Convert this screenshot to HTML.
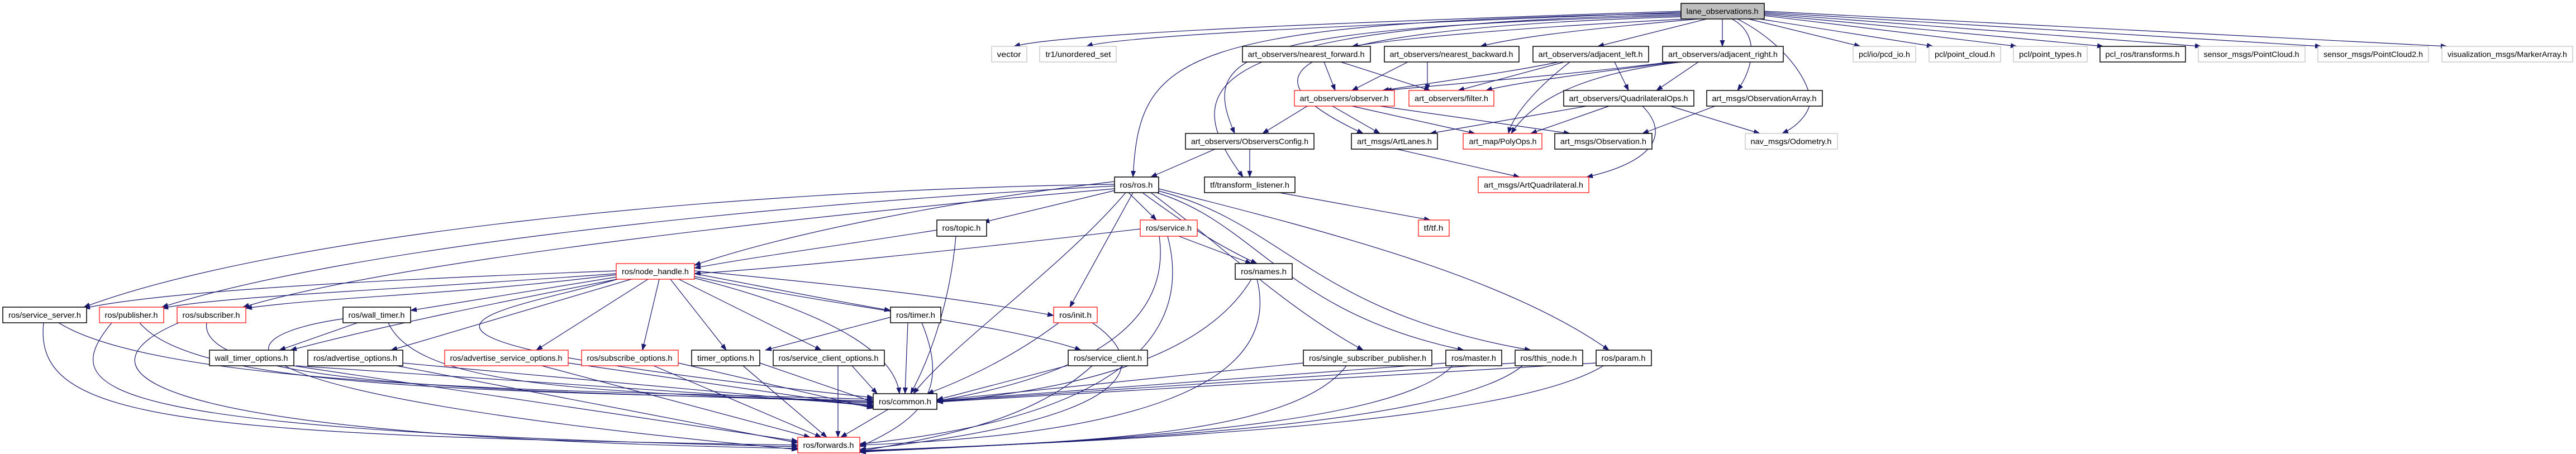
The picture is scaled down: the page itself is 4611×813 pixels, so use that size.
<!DOCTYPE html>
<html><head><meta charset="utf-8"><style>
html,body{margin:0;padding:0;background:#fff;}
svg{display:block}
text{font-family:"Liberation Sans",sans-serif;font-size:14px;fill:#000}
.e{fill:none;stroke:#191970;stroke-width:1.2}
.b{fill:#fff;stroke:#000;stroke-width:1.5}
.r{fill:#fff;stroke:#f00;stroke-width:1.2}
.g{fill:#fff;stroke:#bfbfbf;stroke-width:1.2}
</style></head><body>
<svg width="4611" height="813" viewBox="0 0 4611 813" xmlns="http://www.w3.org/2000/svg">
<defs><marker id="a" markerUnits="userSpaceOnUse" markerWidth="12" markerHeight="9" refX="11" refY="4.5" orient="auto"><path d="M0,0 L12,4.5 L0,9 z" fill="#191970"/></marker></defs>
<g class="e" marker-end="url(#a)">
<path d="M3009,20 C2400,40 1900,60 1815,83"/>
<path d="M3009,22 C2400,45 2000,65 1945,83"/>
<path d="M3009,24 C2100,40 2040,100 2028,317"/>
<path d="M3009,26 C2150,45 2100,150 2225,317"/>
<path d="M3009,28 C2200,50 2150,100 2210,239"/>
<path d="M3009,30 C2200,55 2250,150 2440,239"/>
<path d="M3020,34 C2700,50 2500,70 2420,83"/>
<path d="M3040,34 C2800,55 2700,70 2650,83"/>
<path d="M3055,34 L2860,83"/>
<path d="M3083,34 L3083,83"/>
<path d="M3100,34 C3150,60 3140,120 3110,162"/>
<path d="M3110,34 C3200,80 3240,150 3240,180 C3240,200 3220,225 3190,239"/>
<path d="M3130,34 L3330,83"/>
<path d="M3150,34 L3460,83"/>
<path d="M3158,28 L3610,83"/>
<path d="M3158,26 L3765,83"/>
<path d="M3158,24 L3940,83"/>
<path d="M3158,22 L4155,83"/>
<path d="M3158,20 L4380,83"/>
<path d="M2370,111 L2390,162"/>
<path d="M2400,111 L2560,162"/>
<path d="M2520,111 L2420,162"/>
<path d="M2555,111 L2555,162"/>
<path d="M2790,111 C2700,130 2550,150 2475,162"/>
<path d="M2800,111 L2610,162"/>
<path d="M2890,111 L2915,162"/>
<path d="M2810,111 C2760,150 2710,200 2700,239"/>
<path d="M2990,111 C2800,135 2600,150 2480,162"/>
<path d="M3000,111 C2850,130 2700,150 2660,162"/>
<path d="M3040,111 L2965,162"/>
<path d="M3010,111 C2850,130 2750,170 2705,239"/>
<path d="M2340,190 L2260,239"/>
<path d="M2385,190 L2470,239"/>
<path d="M2420,190 L2640,239"/>
<path d="M2470,190 L2810,239"/>
<path d="M2840,190 L2560,239"/>
<path d="M2880,190 L2740,239"/>
<path d="M2940,190 C2990,240 2960,290 2840,317"/>
<path d="M3070,190 L2940,239"/>
<path d="M2990,190 L3150,239"/>
<path d="M2175,267 L2060,317"/>
<path d="M2237,267 L2237,317"/>
<path d="M2500,267 L2720,317"/>
<path d="M2290,345 L2560,394"/>
<path d="M1995,325 C1700,360 1400,420 1243,475"/>
<path d="M1995,330 C1300,340 500,420 150,550"/>
<path d="M1995,333 C1300,370 600,450 290,550"/>
<path d="M1995,338 C1400,390 700,470 435,550"/>
<path d="M2000,340 L1760,398"/>
<path d="M2020,345 L2070,394"/>
<path d="M2045,345 C2120,400 2180,440 2250,472"/>
<path d="M2028,345 L1915,550"/>
<path d="M2015,345 C1900,480 1700,620 1635,705"/>
<path d="M2060,345 C2200,450 2300,550 2440,627"/>
<path d="M2070,345 C2250,400 2300,560 2620,627"/>
<path d="M2074,342 C2300,400 2350,560 2740,627"/>
<path d="M2074,338 C2400,420 2700,500 2880,627"/>
<path d="M1677,412 C1500,440 1350,460 1243,480"/>
<path d="M1711,423 C1700,550 1660,650 1630,705"/>
<path d="M2041,410 C1700,450 1400,480 1243,490"/>
<path d="M2110,423 L2240,472"/>
<path d="M2075,423 C2100,600 1900,680 1677,718"/>
<path d="M2090,423 C2150,650 1900,760 1539,795"/>
<path d="M2240,500 C2150,650 1900,700 1677,720"/>
<path d="M2250,500 C2300,700 2000,780 1539,797"/>
<path d="M1103,485 C700,500 300,520 150,552"/>
<path d="M1103,490 C700,520 400,530 290,552"/>
<path d="M1103,492 C800,530 600,530 440,552"/>
<path d="M1110,495 L735,556"/>
<path d="M1115,498 C900,540 700,580 520,627"/>
<path d="M1130,500 L700,627"/>
<path d="M1160,500 L960,627"/>
<path d="M1180,500 L1150,627"/>
<path d="M1200,500 L1300,627"/>
<path d="M1215,500 L1470,627"/>
<path d="M1243,490 C1400,520 1500,540 1594,556"/>
<path d="M1243,485 C1500,510 1700,530 1886,565"/>
<path d="M1243,495 C1500,550 1800,580 1935,627"/>
<path d="M1243,498 C1450,550 1600,620 1610,705"/>
<path d="M1105,500 C900,560 500,600 1563,712"/>
<path d="M105,578 C300,700 1100,700 1563,715"/>
<path d="M78,578 C60,750 300,780 1428,797"/>
<path d="M250,578 C350,700 900,700 1563,718"/>
<path d="M200,578 C100,700 150,770 1428,800"/>
<path d="M370,578 C350,700 1000,700 1563,720"/>
<path d="M320,578 C150,650 150,780 1428,803"/>
<path d="M640,578 L500,627"/>
<path d="M695,578 C750,700 1100,700 1563,722"/>
<path d="M620,570 C400,600 300,700 1428,805"/>
<path d="M530,655 L1563,725"/>
<path d="M525,655 L1428,790"/>
<path d="M720,650 L1563,727"/>
<path d="M710,655 L1428,793"/>
<path d="M1017,650 L1563,729"/>
<path d="M970,655 L1450,783"/>
<path d="M1214,650 L1563,731"/>
<path d="M1170,655 L1470,783"/>
<path d="M1360,650 L1563,720"/>
<path d="M1330,655 L1480,783"/>
<path d="M1525,655 L1570,705"/>
<path d="M1500,655 L1500,783"/>
<path d="M1625,578 L1620,705"/>
<path d="M1594,568 L1370,627"/>
<path d="M1650,578 C1700,700 1650,750 1539,800"/>
<path d="M1895,578 C1800,650 1700,690 1660,705"/>
<path d="M1955,578 C2060,650 2050,750 1539,805"/>
<path d="M1910,655 L1677,716"/>
<path d="M1955,655 C1850,750 1700,780 1539,808"/>
<path d="M2333,650 L1677,717"/>
<path d="M2410,655 C2300,800 1800,790 1539,810"/>
<path d="M2590,650 L1677,718"/>
<path d="M2600,655 C2500,760 2000,790 1539,809"/>
<path d="M2712,650 L1677,719"/>
<path d="M2725,655 C2600,760 2000,790 1539,808"/>
<path d="M2857,650 L1677,720"/>
<path d="M2870,655 C2700,760 2000,790 1539,807"/>
<path d="M1590,733 L1505,783"/>
</g>
<g>
<rect x="3009" y="6" width="149" height="28" fill="#bfbfbf" stroke="#000" stroke-width="1.5"/><text x="3083" y="25" text-anchor="middle" textLength="129" lengthAdjust="spacingAndGlyphs">lane_observations.h</text>
<rect class="g" x="1775" y="83" width="63" height="28"/><text x="1806" y="102" text-anchor="middle" textLength="43" lengthAdjust="spacingAndGlyphs">vector</text>
<rect class="g" x="1861" y="83" width="137" height="28"/><text x="1930" y="102" text-anchor="middle" textLength="117" lengthAdjust="spacingAndGlyphs">tr1/unordered_set</text>
<rect class="b" x="2224" y="83" width="229" height="28"/><text x="2338" y="102" text-anchor="middle" textLength="209" lengthAdjust="spacingAndGlyphs">art_observers/nearest_forward.h</text>
<rect class="b" x="2478" y="83" width="241" height="28"/><text x="2598" y="102" text-anchor="middle" textLength="221" lengthAdjust="spacingAndGlyphs">art_observers/nearest_backward.h</text>
<rect class="b" x="2744" y="83" width="207" height="28"/><text x="2847" y="102" text-anchor="middle" textLength="187" lengthAdjust="spacingAndGlyphs">art_observers/adjacent_left.h</text>
<rect class="b" x="2976" y="83" width="216" height="28"/><text x="3084" y="102" text-anchor="middle" textLength="196" lengthAdjust="spacingAndGlyphs">art_observers/adjacent_right.h</text>
<rect class="g" x="3317" y="83" width="112" height="28"/><text x="3373" y="102" text-anchor="middle" textLength="92" lengthAdjust="spacingAndGlyphs">pcl/io/pcd_io.h</text>
<rect class="g" x="3453" y="83" width="128" height="28"/><text x="3517" y="102" text-anchor="middle" textLength="108" lengthAdjust="spacingAndGlyphs">pcl/point_cloud.h</text>
<rect class="g" x="3604" y="83" width="132" height="28"/><text x="3670" y="102" text-anchor="middle" textLength="112" lengthAdjust="spacingAndGlyphs">pcl/point_types.h</text>
<rect class="b" x="3759" y="83" width="153" height="28"/><text x="3835" y="102" text-anchor="middle" textLength="133" lengthAdjust="spacingAndGlyphs">pcl_ros/transforms.h</text>
<rect class="g" x="3935" y="83" width="191" height="28"/><text x="4030" y="102" text-anchor="middle" textLength="171" lengthAdjust="spacingAndGlyphs">sensor_msgs/PointCloud.h</text>
<rect class="g" x="4149" y="83" width="198" height="28"/><text x="4248" y="102" text-anchor="middle" textLength="178" lengthAdjust="spacingAndGlyphs">sensor_msgs/PointCloud2.h</text>
<rect class="g" x="4371" y="83" width="234" height="28"/><text x="4488" y="102" text-anchor="middle" textLength="214" lengthAdjust="spacingAndGlyphs">visualization_msgs/MarkerArray.h</text>
<rect class="r" x="2317" y="162" width="179" height="28"/><text x="2406" y="181" text-anchor="middle" textLength="159" lengthAdjust="spacingAndGlyphs">art_observers/observer.h</text>
<rect class="r" x="2522" y="162" width="152" height="28"/><text x="2598" y="181" text-anchor="middle" textLength="132" lengthAdjust="spacingAndGlyphs">art_observers/filter.h</text>
<rect class="b" x="2799" y="162" width="233" height="28"/><text x="2915" y="181" text-anchor="middle" textLength="213" lengthAdjust="spacingAndGlyphs">art_observers/QuadrilateralOps.h</text>
<rect class="b" x="3055" y="162" width="207" height="28"/><text x="3158" y="181" text-anchor="middle" textLength="187" lengthAdjust="spacingAndGlyphs">art_msgs/ObservationArray.h</text>
<rect class="b" x="2122" y="239" width="230" height="28"/><text x="2237" y="258" text-anchor="middle" textLength="210" lengthAdjust="spacingAndGlyphs">art_observers/ObserversConfig.h</text>
<rect class="b" x="2419" y="239" width="154" height="28"/><text x="2496" y="258" text-anchor="middle" textLength="134" lengthAdjust="spacingAndGlyphs">art_msgs/ArtLanes.h</text>
<rect class="r" x="2619" y="239" width="141" height="28"/><text x="2690" y="258" text-anchor="middle" textLength="121" lengthAdjust="spacingAndGlyphs">art_map/PolyOps.h</text>
<rect class="b" x="2783" y="239" width="174" height="28"/><text x="2870" y="258" text-anchor="middle" textLength="154" lengthAdjust="spacingAndGlyphs">art_msgs/Observation.h</text>
<rect class="g" x="3124" y="239" width="165" height="28"/><text x="3206" y="258" text-anchor="middle" textLength="145" lengthAdjust="spacingAndGlyphs">nav_msgs/Odometry.h</text>
<rect class="b" x="1995" y="317" width="79" height="28"/><text x="2034" y="336" text-anchor="middle" textLength="59" lengthAdjust="spacingAndGlyphs">ros/ros.h</text>
<rect class="b" x="2156" y="317" width="162" height="28"/><text x="2237" y="336" text-anchor="middle" textLength="142" lengthAdjust="spacingAndGlyphs">tf/transform_listener.h</text>
<rect class="r" x="2646" y="317" width="198" height="28"/><text x="2745" y="336" text-anchor="middle" textLength="178" lengthAdjust="spacingAndGlyphs">art_msgs/ArtQuadrilateral.h</text>
<rect class="b" x="1677" y="394" width="89" height="29"/><text x="1721" y="413" text-anchor="middle" textLength="69" lengthAdjust="spacingAndGlyphs">ros/topic.h</text>
<rect class="r" x="2041" y="394" width="102" height="29"/><text x="2092" y="413" text-anchor="middle" textLength="82" lengthAdjust="spacingAndGlyphs">ros/service.h</text>
<rect class="r" x="2539" y="394" width="55" height="29"/><text x="2566" y="413" text-anchor="middle" textLength="35" lengthAdjust="spacingAndGlyphs">tf/tf.h</text>
<rect class="r" x="1103" y="472" width="140" height="28"/><text x="1173" y="491" text-anchor="middle" textLength="120" lengthAdjust="spacingAndGlyphs">ros/node_handle.h</text>
<rect class="b" x="2211" y="472" width="102" height="28"/><text x="2262" y="491" text-anchor="middle" textLength="82" lengthAdjust="spacingAndGlyphs">ros/names.h</text>
<rect class="b" x="5" y="550" width="150" height="28"/><text x="80" y="569" text-anchor="middle" textLength="130" lengthAdjust="spacingAndGlyphs">ros/service_server.h</text>
<rect class="r" x="178" y="550" width="115" height="28"/><text x="235" y="569" text-anchor="middle" textLength="95" lengthAdjust="spacingAndGlyphs">ros/publisher.h</text>
<rect class="r" x="317" y="550" width="123" height="28"/><text x="378" y="569" text-anchor="middle" textLength="103" lengthAdjust="spacingAndGlyphs">ros/subscriber.h</text>
<rect class="b" x="614" y="550" width="121" height="28"/><text x="674" y="569" text-anchor="middle" textLength="101" lengthAdjust="spacingAndGlyphs">ros/wall_timer.h</text>
<rect class="b" x="1594" y="550" width="90" height="28"/><text x="1639" y="569" text-anchor="middle" textLength="70" lengthAdjust="spacingAndGlyphs">ros/timer.h</text>
<rect class="r" x="1886" y="550" width="78" height="28"/><text x="1925" y="569" text-anchor="middle" textLength="58" lengthAdjust="spacingAndGlyphs">ros/init.h</text>
<rect class="b" x="375" y="627" width="151" height="28"/><text x="450" y="646" text-anchor="middle" textLength="131" lengthAdjust="spacingAndGlyphs">wall_timer_options.h</text>
<rect class="b" x="551" y="627" width="170" height="28"/><text x="636" y="646" text-anchor="middle" textLength="150" lengthAdjust="spacingAndGlyphs">ros/advertise_options.h</text>
<rect class="r" x="796" y="627" width="221" height="28"/><text x="906" y="646" text-anchor="middle" textLength="201" lengthAdjust="spacingAndGlyphs">ros/advertise_service_options.h</text>
<rect class="r" x="1041" y="627" width="173" height="28"/><text x="1127" y="646" text-anchor="middle" textLength="153" lengthAdjust="spacingAndGlyphs">ros/subscribe_options.h</text>
<rect class="b" x="1238" y="627" width="122" height="28"/><text x="1299" y="646" text-anchor="middle" textLength="102" lengthAdjust="spacingAndGlyphs">timer_options.h</text>
<rect class="b" x="1384" y="627" width="199" height="28"/><text x="1483" y="646" text-anchor="middle" textLength="179" lengthAdjust="spacingAndGlyphs">ros/service_client_options.h</text>
<rect class="b" x="1912" y="627" width="142" height="28"/><text x="1983" y="646" text-anchor="middle" textLength="122" lengthAdjust="spacingAndGlyphs">ros/service_client.h</text>
<rect class="b" x="2333" y="627" width="230" height="28"/><text x="2448" y="646" text-anchor="middle" textLength="210" lengthAdjust="spacingAndGlyphs">ros/single_subscriber_publisher.h</text>
<rect class="b" x="2588" y="627" width="100" height="28"/><text x="2638" y="646" text-anchor="middle" textLength="80" lengthAdjust="spacingAndGlyphs">ros/master.h</text>
<rect class="b" x="2712" y="627" width="121" height="28"/><text x="2772" y="646" text-anchor="middle" textLength="101" lengthAdjust="spacingAndGlyphs">ros/this_node.h</text>
<rect class="b" x="2857" y="627" width="99" height="28"/><text x="2906" y="646" text-anchor="middle" textLength="79" lengthAdjust="spacingAndGlyphs">ros/param.h</text>
<rect class="b" x="1563" y="705" width="114" height="28"/><text x="1620" y="724" text-anchor="middle" textLength="94" lengthAdjust="spacingAndGlyphs">ros/common.h</text>
<rect class="r" x="1428" y="783" width="111" height="28"/><text x="1483" y="802" text-anchor="middle" textLength="91" lengthAdjust="spacingAndGlyphs">ros/forwards.h</text>
</g>
</svg>
</body></html>
